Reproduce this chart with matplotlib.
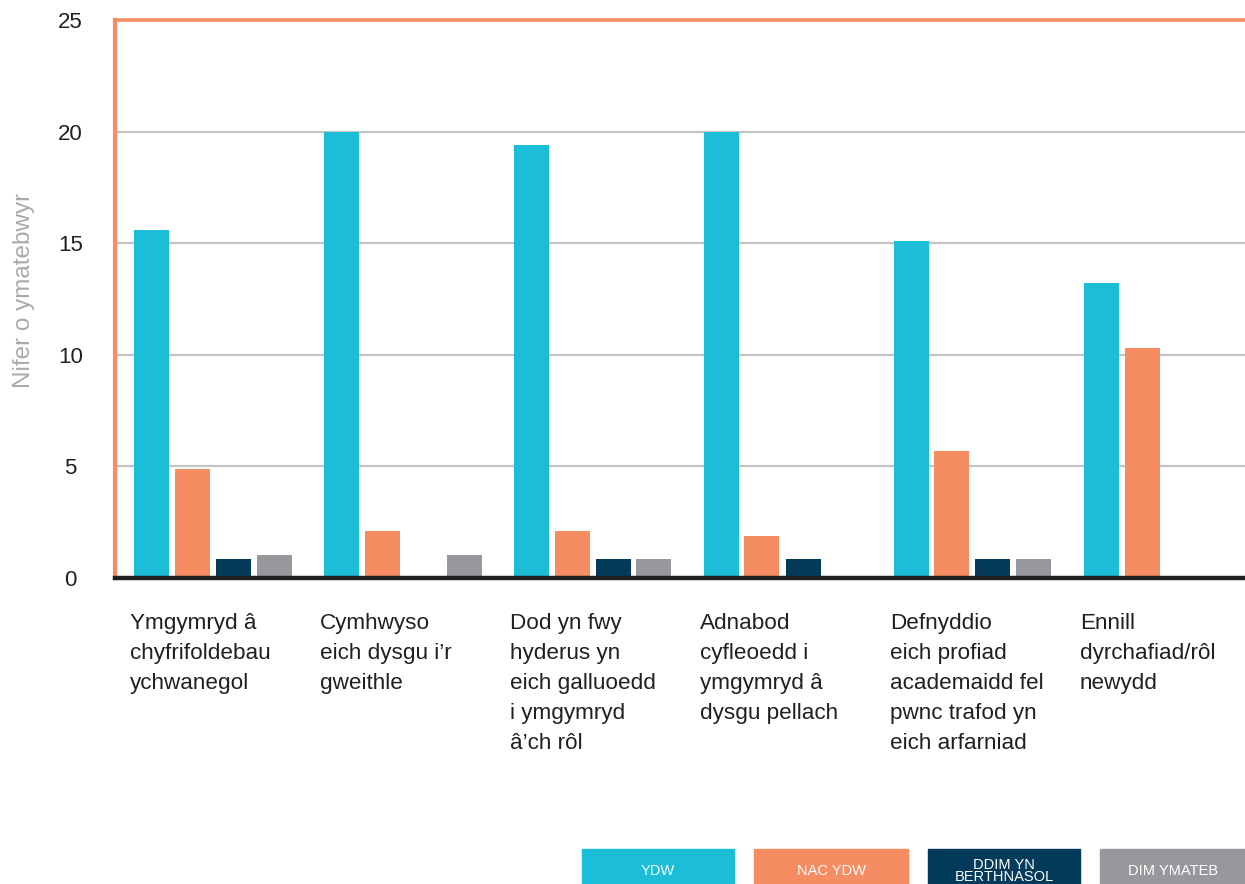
#!/usr/bin/env python3
"""Grouped bar chart: responses per outcome (Welsh survey)."""

import numpy as np
import matplotlib.pyplot as plt
from matplotlib.patches import Rectangle

plt.rcParams['font.family'] = ['Liberation Sans', 'DejaVu Sans']

# Data
categories = [
    "Ymgymryd â\nchyfrifoldebau\nychwanegol",
    "Cymhwyso\neich dysgu i’r\ngweithle",
    "Dod yn fwy\nhyderus yn\neich galluoedd\ni ymgymryd\nâ’ch rôl",
    "Adnabod\ncyfleoedd i\nymgymryd â\ndysgu pellach",
    "Defnyddio\neich profiad\nacademaidd fel\npwnc trafod yn\neich arfarniad",
    "Ennill\ndyrchafiad/rôl\nnewydd",
]
series_names = ["YDW", "NAC YDW", "DDIM YN\nBERTHNASOL", "DIM YMATEB"]
ydw = [15.6, 20.0, 19.4, 20.0, 15.1, 13.2]
nac_ydw = [4.9, 2.1, 2.1, 1.9, 5.7, 10.3]
ddim_berthnasol = [0.85, 0, 0.85, 0.85, 0.85, 0]
dim_ymateb = [1.05, 1.05, 0.85, 0, 0.85, 0]
yticks = [0, 5, 10, 15, 20, 25]

colors = ['#1bbdd7', '#f68c62', '#043b5a', '#97989c']
orange = '#f68c62'

W, H = 1245, 884
fig = plt.figure(figsize=(W / 100, H / 100), dpi=100)

# axes placed in pixel terms
left_px, right_px, top_px, bottom_px = 115, 1245, 20, 578
ax = fig.add_axes([left_px / W, 1 - bottom_px / H,
                   (right_px - left_px) / W, (bottom_px - top_px) / H])

x = np.arange(len(categories))
group_px = 190.0
bar_w = 35 / group_px
step = 41 / group_px
all_series = [ydw, nac_ydw, ddim_berthnasol, dim_ymateb]
for j, (vals, col) in enumerate(zip(all_series, colors)):
    ax.bar(x + (j - 1.5) * step, vals, width=bar_w, color=col, zorder=3)

ax.set_ylim(0, 25)
x_left = (left_px - 212.5) / group_px
x_right = (right_px - 212.5) / group_px
ax.set_xlim(x_left, x_right)

# gridlines
for t in yticks[1:-1]:
    ax.axhline(t, color='#c4c4c6', lw=1.6, zorder=1)
ax.axhline(25, color=orange, lw=2.6, zorder=4, clip_on=False)
ax.axhline(0, color='#231f20', lw=3.2, zorder=5, clip_on=False)

for s in ['top', 'right', 'bottom']:
    ax.spines[s].set_visible(False)
ax.spines['left'].set_color(orange)
ax.spines['left'].set_linewidth(3.0)
ax.spines['left'].set_zorder(4)

ax.set_xticks([])
ax.set_yticks(yticks)
ax.tick_params(axis='y', length=0, pad=32, labelsize=16, labelcolor='#231f20')
for lbl in ax.get_yticklabels():
    lbl.set_horizontalalignment('center')
ax.set_ylabel("Nifer o ymatebwyr", fontsize=17.5, color='#a7a9ac')
ax.yaxis.set_label_coords(-80 / (right_px - left_px), 0.516)

# category labels below the bars
for i, lab in enumerate(categories):
    ax.text(i + (130 - 212.5) / group_px, -35 / (bottom_px - top_px), lab,
            transform=ax.get_xaxis_transform(), ha='left', va='top',
            fontsize=16.2, color='#231f20', linespacing=1.56)

# legend boxes along the bottom
legend_x = [(582, 734), (754, 908), (928, 1080), (1100, 1245)]
for (x0, x1), name, col in zip(legend_x, series_names, colors):
    fig.patches.append(Rectangle((x0 / W, 0), (x1 - x0) / W, (H - 849) / H,
                                 transform=fig.transFigure, color=col))
    fig.text((x0 + x1) / 2 / W, 1 - 871 / H, name, ha='center', va='center',
             fontsize=10.5, color='white', linespacing=0.9)

fig.savefig('out.png', dpi=100)
